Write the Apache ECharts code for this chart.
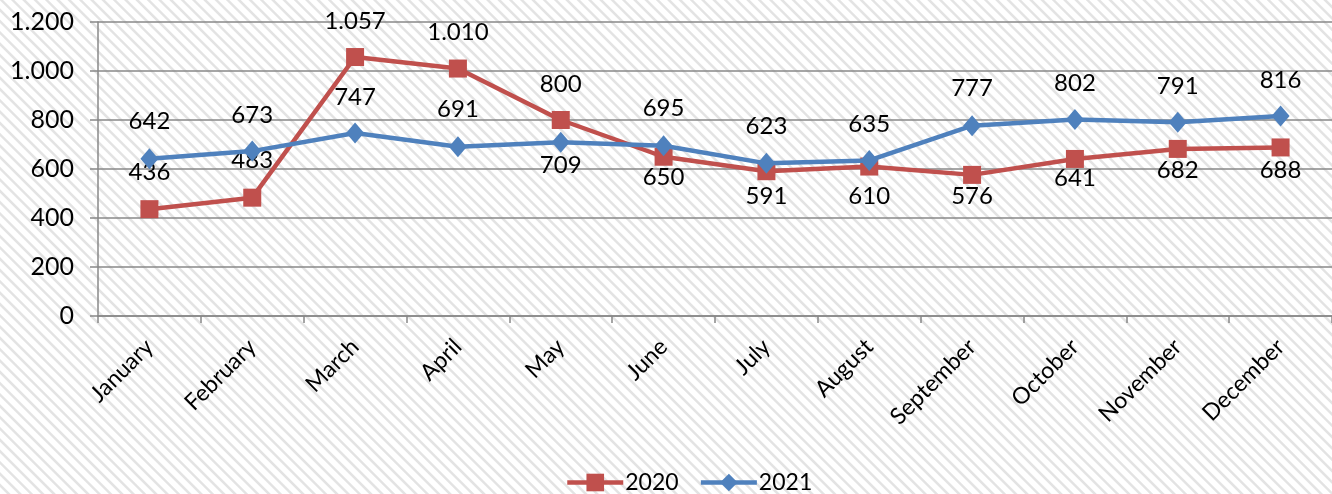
<!DOCTYPE html>
<html>
<head>
<meta charset="utf-8">
<script src="https://cdn.jsdelivr.net/npm/echarts@6/dist/echarts.min.js"></script>
<style>
  html, body { margin: 0; padding: 0; }
  body {
    width: 1332px; height: 494px; overflow: hidden;
    background: repeating-linear-gradient(45deg, #ffffff 0px, #ffffff 4.5px, #e3e3e3 5.5px, #e3e3e3 7px, #ffffff 8px);
  }
  #chart { width: 1332px; height: 494px; }
</style>
</head>
<body>
<div id="chart"></div>
<script>
// ---- data ----
const categories = ['January', 'February', 'March', 'April', 'May', 'June', 'July', 'August', 'September', 'October', 'November', 'December'];
const seriesNames = ['2020', '2021'];
const values2020 = [436, 483, 1057, 1010, 800, 650, 591, 610, 576, 641, 682, 688];
const values2021 = [642, 673, 747, 691, 709, 695, 623, 635, 777, 802, 791, 816];
const yTicks = [0, 200, 400, 600, 800, 1000, 1200];

// ---- label placement (vertical offset of label centre from point, px) ----
const labelDy2020 = [-37, -37, -36, -36, -36, 21, 25, 30, 21, 19, 21, 23];
const labelDy2021 = [-37, -36, -36, -37, 23, -37, -37, -36, -37, -36, -36, -36];

function fmt(v) {
  return String(v).replace(/\B(?=(\d{3})+(?!\d))/g, '.');
}

const FONT = 'Lato';

function buildData(values, dys) {
  return values.map((v, i) => ({
    value: v,
    label: { position: 'inside', offset: [0, dys[i]] }
  }));
}

const chart = echarts.init(document.getElementById('chart'), null, { renderer: 'canvas' });
chart.setOption({
  backgroundColor: 'transparent',
  animation: false,
  textStyle: { fontFamily: FONT },
  grid: { left: 98, top: 22, width: 1247, height: 294, containLabel: false },
  legend: {
    data: seriesNames,
    left: 560,
    top: 466,
    itemWidth: 56,
    itemHeight: 22,
    itemGap: 20,
    lineStyle: { width: 4.5 },
    textStyle: { fontFamily: FONT, fontSize: 23, color: '#000', padding: [0, 0, 0, -3] }
  },
  xAxis: {
    type: 'category',
    data: categories,
    boundaryGap: true,
    axisLine: { lineStyle: { color: '#888888', width: 1.5 } },
    axisTick: { show: true, length: 7, alignWithLabel: false, lineStyle: { color: '#888888', width: 1.5 } },
    axisLabel: { rotate: 45, margin: 27, fontFamily: FONT, fontSize: 23, color: '#000', interval: 0 }
  },
  yAxis: {
    type: 'value',
    min: yTicks[0],
    max: yTicks[yTicks.length - 1],
    interval: yTicks[1] - yTicks[0],
    axisLine: { show: true, lineStyle: { color: '#888888', width: 1.5 } },
    axisTick: { show: true, length: 8, lineStyle: { color: '#888888', width: 1.5 } },
    splitLine: { show: true, lineStyle: { color: '#888888', width: 1.5 } },
    axisLabel: { fontFamily: FONT, fontSize: 25, color: '#000', margin: 24, formatter: v => fmt(v) }
  },
  series: [
    {
      name: seriesNames[0],
      type: 'line',
      data: buildData(values2020, labelDy2020),
      symbol: 'rect',
      symbolSize: 18,
      lineStyle: { color: '#C0504D', width: 4.5 },
      itemStyle: { color: '#C0504D' },
      label: { show: true, fontFamily: FONT, fontSize: 24, color: '#000', formatter: p => fmt(p.value) },
      z: 2
    },
    {
      name: seriesNames[1],
      type: 'line',
      data: buildData(values2021, labelDy2021),
      symbol: 'diamond',
      symbolSize: [18, 21],
      lineStyle: { color: '#4F81BD', width: 4.5 },
      itemStyle: { color: '#4F81BD' },
      label: { show: true, fontFamily: FONT, fontSize: 24, color: '#000', formatter: p => fmt(p.value) },
      z: 3
    }
  ]
});
</script>
</body>
</html>
